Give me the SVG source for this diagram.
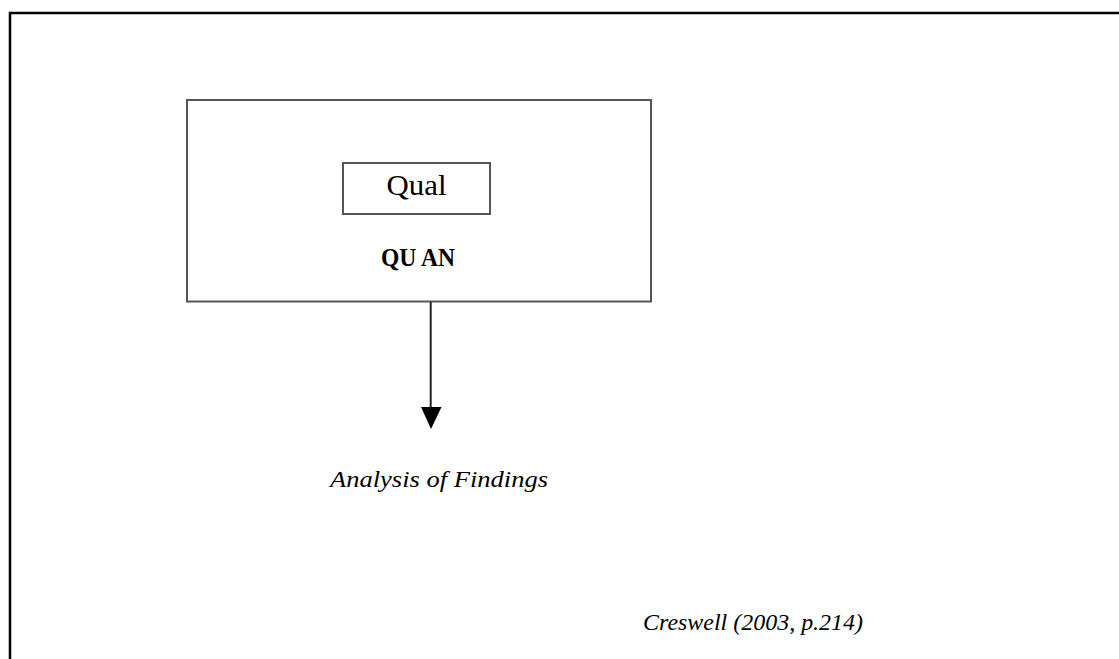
<svg xmlns="http://www.w3.org/2000/svg" width="1119" height="659" viewBox="0 0 1119 659">
<style>
.box{fill:none;stroke:#555;stroke-width:2}
.t{font-family:"Liberation Serif","Times New Roman",serif;fill:#000}
</style>
<rect width="1119" height="659" fill="#fff"/>
<g id="frame">
<path d="M10 659 V13 H1119" fill="none" stroke="#000" stroke-width="2.5"/>
</g>
<g id="quan">
<rect class="box" x="187" y="100" width="464" height="201.5"/>
<text class="t" x="418" y="266" font-size="25" font-weight="bold" text-anchor="middle" textLength="74" lengthAdjust="spacingAndGlyphs">QU AN</text>
</g>
<g id="qual">
<rect class="box" x="343" y="163" width="147" height="51"/>
<text class="t" x="416.5" y="194.5" font-size="30" text-anchor="middle" textLength="60" lengthAdjust="spacingAndGlyphs">Qual</text>
</g>
<g id="connectors">
<line x1="430.7" y1="302" x2="430.7" y2="408" stroke="#222" stroke-width="2"/>
<polygon points="421,407 441.5,407 431,429" fill="#000"/>
</g>
<g id="analysis">
<text class="t" x="439" y="487" font-size="24" font-style="italic" text-anchor="middle" textLength="218" lengthAdjust="spacingAndGlyphs">Analysis of Findings</text>
</g>
<g id="source">
<text class="t" x="753" y="629.5" font-size="23" font-style="italic" text-anchor="middle" textLength="220" lengthAdjust="spacingAndGlyphs">Creswell (2003, p.214)</text>
</g>
</svg>
